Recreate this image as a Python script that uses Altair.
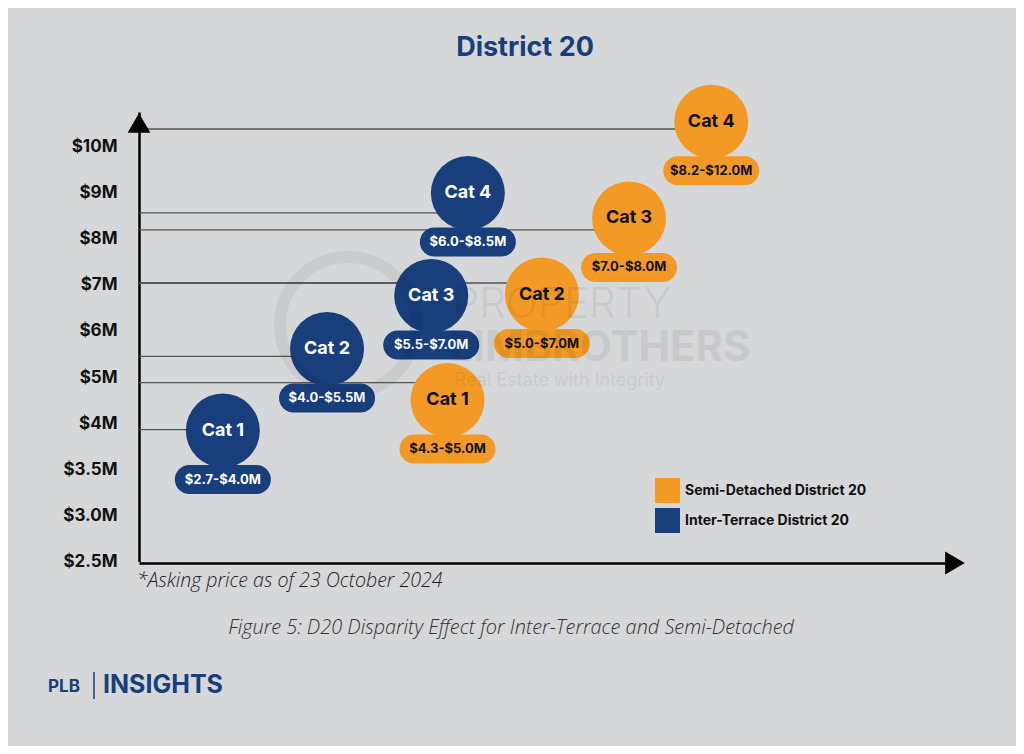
import altair as alt
import pandas as pd

# ---- data ----
categories = ["Cat 1", "Cat 2", "Cat 3", "Cat 4"]
series_names = ["Semi-Detached District 20", "Inter-Terrace District 20"]

inter_ranges = ["$2.7-$4.0M", "$4.0-$5.5M", "$5.5-$7.0M", "$6.0-$8.5M"]
semi_ranges = ["$4.3-$5.0M", "$5.0-$7.0M", "$7.0-$8.0M", "$8.2-$12.0M"]

# bubble position along the (unlabelled) horizontal axis, 0-100
inter_x = [10.3, 23.1, 35.9, 40.4]
semi_x = [37.9, 49.5, 60.2, 70.3]

# bubble centre on the price axis ($M)
inter_y = [3.92, 5.61, 6.76, 8.99]
semi_y = [4.50, 6.79, 8.44, 10.54]

# level of the guide line running to each bubble ($M)
inter_line = [3.93, 5.45, 7.04, 8.56]
semi_line = [4.88, 7.04, 8.19, 10.38]

tick_values = [2.5, 3.0, 3.5, 4, 5, 6, 7, 8, 9, 10]
tick_labels = ["$2.5M", "$3.0M", "$3.5M", "$4M", "$5M", "$6M", "$7M", "$8M", "$9M", "$10M"]

NAVY = "#183e7c"
ORANGE = "#f39a26"
BG = "#d6d7d9"
FONT = "Inter"

rows = []
for i, c in enumerate(categories):
    rows.append(dict(series=series_names[1], cat=c, rng=inter_ranges[i],
                     x=inter_x[i], y=inter_y[i], line_y=inter_line[i]))
for i, c in enumerate(categories):
    rows.append(dict(series=series_names[0], cat=c, rng=semi_ranges[i],
                     x=semi_x[i], y=semi_y[i], line_y=semi_line[i]))
df = pd.DataFrame(rows)
df["x0"] = 0.0

W, H = 814, 451
# evenly spaced (non-linear) price axis
y_domain = tick_values + [10.75]
y_range = [449.5 - 46.11 * i for i in range(len(tick_values))] + [0]

label_expr = ""
for v, l in zip(tick_values, tick_labels):
    label_expr += f"datum.value == {v} ? '{l}' : "
label_expr += "''"

xs = alt.Scale(domain=[0, 100], range=[0, W], nice=False, zero=False)
ys = alt.Scale(domain=y_domain, range=y_range, nice=False, zero=False)
color_scale = alt.Scale(domain=series_names, range=[ORANGE, NAVY])

base = alt.Chart(df)

X = alt.X("x:Q", scale=xs,
          axis=alt.Axis(labels=False, ticks=False, grid=False, title=None,
                        domainColor="black", domainWidth=2.5))
Y = alt.Y("y:Q", scale=ys,
          axis=alt.Axis(values=tick_values, labelExpr=label_expr, ticks=False, grid=False,
                        title=None, domainColor="black", domainWidth=2.5,
                        labelFontSize=17, labelFontWeight="bold", labelColor="#111",
                        labelFont=FONT, labelPadding=22))

guides = base.mark_rule(color="#555", strokeWidth=1.3).encode(
    x=alt.X("x0:Q", scale=xs), x2="x:Q", y=alt.Y("line_y:Q", scale=ys)
)

bubbles = base.mark_circle(size=5476, opacity=1).encode(
    x=X, y=Y,
    color=alt.Color("series:N", scale=color_scale,
                    legend=alt.Legend(title=None, orient="none", legendX=516, legendY=366,
                                      symbolType="square", symbolSize=625, symbolStrokeWidth=0,
                                      labelFontSize=14, labelFontWeight="bold", labelFont=FONT,
                                      labelColor="#111", rowPadding=5, labelOffset=5,
                                      labelLimit=0, padding=0, symbolOpacity=1)),
)

pills = base.mark_rule(strokeWidth=29, strokeCap="round", xOffset=-33.5, x2Offset=33.5,
                       yOffset=49).encode(
    x=alt.X("x:Q", scale=xs), x2="x:Q", y=alt.Y("y:Q", scale=ys),
    color=alt.Color("series:N", scale=color_scale, legend=None),
)

txt_color = alt.condition(alt.datum.series == series_names[1], alt.value("white"), alt.value("#111"))

cat_text = base.mark_text(fontSize=18, fontWeight="bold", font=FONT).encode(
    x=alt.X("x:Q", scale=xs), y=alt.Y("y:Q", scale=ys), text="cat:N", color=txt_color
)
rng_text = base.mark_text(fontSize=13, fontWeight="bold", font=FONT, dy=49).encode(
    x=alt.X("x:Q", scale=xs), y=alt.Y("y:Q", scale=ys), text="rng:N", color=txt_color
)

one = alt.Chart(pd.DataFrame({"k": [0]}))

def label(text, x, y, **kw):
    return one.mark_text(text=text, **kw).encode(x=alt.value(x), y=alt.value(y))

arrow_up = one.mark_point(shape="triangle-up", filled=True, color="black", size=520,
                          opacity=1).encode(x=alt.value(0), y=alt.value(11))
arrow_right = one.mark_point(shape="triangle-right", filled=True, color="black", size=520,
                             opacity=1).encode(x=alt.value(W + 2), y=alt.value(H))

wm_ring = one.mark_point(shape="circle", filled=False, color="black", size=18500,
                         strokeWidth=12, opacity=0.05).encode(x=alt.value(209), y=alt.value(213))
wm1 = label("PROPERTY", 423, 193, fontSize=42, font=FONT, fontWeight=300, color="black",
            opacity=0.06)
wm2 = label("LIMBROTHERS", 461, 236, fontSize=42, font=FONT, fontWeight="bold", color="black",
            opacity=0.06)
wm3 = label("Real Estate with Integrity", 421, 269, fontSize=18, font=FONT, color="black",
            opacity=0.06)

title = label("District 20", 386, -64, fontSize=27, fontWeight="bold", font=FONT, color=NAVY)
foot = label("*Asking price as of 23 October 2024", -2, 469, align="left", fontSize=19.6,
             font="Open Sans", fontStyle="italic", fontWeight=300, color="#1e1e1e")
caption = label("Figure 5: D20 Disparity Effect for Inter-Terrace and Semi-Detached", 372, 516,
                fontSize=19.9, font="Open Sans", fontStyle="italic", fontWeight=300, color="#333")
plb = label("PLB", -91, 575, align="left", fontSize=17, fontWeight="bold", font=FONT, color=NAVY)
bar = one.mark_rule(color=NAVY, strokeWidth=1.5).encode(
    x=alt.value(-45), y=alt.value(560), y2=alt.value(587))
insights = label("INSIGHTS", -36, 573, align="left", fontSize=25, fontWeight="bold", font=FONT,
                 color=NAVY)

chart = alt.layer(
    guides, bubbles, pills, cat_text, rng_text, wm_ring, wm1, wm2, wm3,
    arrow_up, arrow_right, title, foot, caption, plb, bar, insights
).properties(
    width=W, height=H,
    autosize=alt.AutoSizeParams(type="none"),
    padding={"left": 131, "top": 104, "right": 63, "bottom": 183},
    background=BG,
).configure_view(stroke=None)

chart.save("out.html", embed_options={"renderer": "svg", "actions": False})
